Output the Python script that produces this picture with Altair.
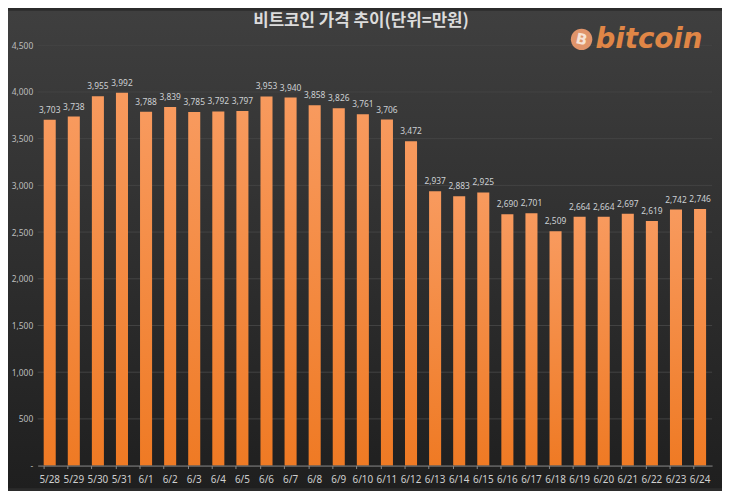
import altair as alt
import pandas as pd

dates = ["5/28", "5/29", "5/30", "5/31", "6/1", "6/2", "6/3", "6/4", "6/5", "6/6",
         "6/7", "6/8", "6/9", "6/10", "6/11", "6/12", "6/13", "6/14", "6/15", "6/16",
         "6/17", "6/18", "6/19", "6/20", "6/21", "6/22", "6/23", "6/24"]
prices = [3703, 3738, 3955, 3992, 3788, 3839, 3785, 3792, 3797, 3953,
          3940, 3858, 3826, 3761, 3706, 3472, 2937, 2883, 2925, 2690,
          2701, 2509, 2664, 2664, 2697, 2619, 2742, 2746]
y_ticks = [0, 500, 1000, 1500, 2000, 2500, 3000, 3500, 4000, 4500]
title_text = "비트코인 가격 추이(단위=만원)"
logo_text = "bitcoin"

df = pd.DataFrame({"date": dates, "price": prices})
grid_df = pd.DataFrame({"price": y_ticks[1:]})
one = pd.DataFrame({"a": [0]})

W, H = 682, 425
PL, PT, PR, PB = 30, 35, 10, 23

yscale = alt.Scale(domain=[0, 4500], nice=False)
yaxis = alt.Axis(title=None, values=y_ticks, labelColor="#bdbdbd", labelFontSize=8.5,
                 labelFont="Noto Sans", labelPadding=5, ticks=False, domain=False,
                 grid=False, zindex=1,
                 labelExpr="datum.value == 0 ? '-' : format(datum.value, ',')")

bg = alt.Chart(one).mark_rect(
    color=alt.Gradient(gradient="linear", x1=0, x2=0, y1=0, y2=1,
                       stops=[alt.GradientStop(offset=0, color="#3f3f3f"),
                              alt.GradientStop(offset=1, color="#1f1f1f")])
).encode(x=alt.value(-PL), x2=alt.value(W + PR), y=alt.value(-PT), y2=alt.value(H + PB))

grid = alt.Chart(grid_df).mark_rule(color="#444444", strokeWidth=1).encode(
    y=alt.Y("price:Q", scale=yscale, axis=yaxis), x=alt.value(0), x2=alt.value(W))

xenc = alt.X("date:N", sort=dates,
             scale=alt.Scale(paddingInner=0.5, paddingOuter=0.25),
             axis=alt.Axis(title=None, labelAngle=0, labelColor="#cfcfcf", labelFontSize=10,
                           labelFont="Noto Sans", labelPadding=6, zindex=1,
                           domainColor="#8a8a8a", tickColor="#8a8a8a", tickSize=3,
                           bandPosition=0, grid=False))
yenc = alt.Y("price:Q", scale=yscale, axis=yaxis)

bars = alt.Chart(df).mark_bar(
    color=alt.Gradient(gradient="linear", x1=0, x2=0, y1=0, y2=1,
                       stops=[alt.GradientStop(offset=0, color="#f89a5e"),
                              alt.GradientStop(offset=1, color="#ef7a24")])
).encode(x=xenc, y=yenc)

labels = alt.Chart(df).mark_text(
    dy=-5, fontSize=8.5, color="#cdd0d3", font="Noto Sans", baseline="bottom"
).encode(x=alt.X("date:N", sort=dates), y=yenc, text=alt.Text("price:Q", format=","))

title = alt.Chart(one).mark_text(text=title_text, fontSize=17, fontWeight="bold", color="#dcdcdc",
                                 font="Noto Sans CJK KR", align="center", baseline="middle").encode(
    x=alt.value(327), y=alt.value(-24))

coin = alt.Chart(one).mark_circle(size=470, color="#e0946a", opacity=1).encode(
    x=alt.value(550), y=alt.value(-6))
coin_b = alt.Chart(one).mark_text(text="B", fontSize=15, fontWeight="bold", color="#f6e3d6",
                                  font="DejaVu Sans", angle=12).encode(
    x=alt.value(550), y=alt.value(-6))
logo = alt.Chart(one).mark_text(text=logo_text, fontSize=28, fontWeight="bold", fontStyle="italic",
                                color="#e08646", font="DejaVu Sans", align="left",
                                baseline="alphabetic").encode(
    x=alt.value(564), y=alt.value(3))

chart = alt.layer(bg, grid, bars, labels, title, coin, coin_b, logo).properties(
    width=W, height=H,
    autosize=alt.AutoSizeParams(type="none"),
    padding={"left": PL, "top": PT, "right": PR, "bottom": PB},
    background="#2b2b2b",
).configure_view(stroke=None)

chart.save("out.html", embed_options={"renderer": "svg", "actions": False})
